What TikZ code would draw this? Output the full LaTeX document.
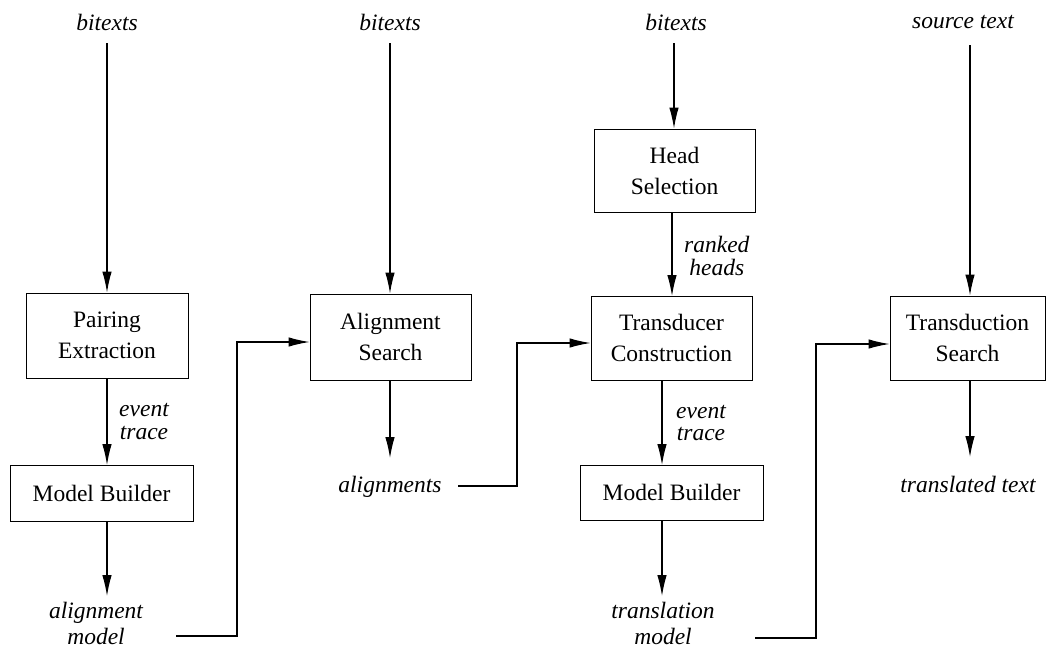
\documentclass[tikz,border=0pt]{standalone}
\usepackage{fontspec}
\setmainfont{Liberation Serif}
\usetikzlibrary{arrows.meta,calc}
\begin{document}
\begin{tikzpicture}[x=1pt,y=-1pt,
  every node/.style={font=\fontsize{23.5}{31}\selectfont},
  box/.style={draw,line width=1pt,inner sep=0pt,align=center},
  lbl/.style={inner sep=0pt,align=center,font=\fontsize{23.5}{23}\selectfont\itshape},
  lbltwo/.style={inner sep=0pt,align=center,font=\fontsize{23.5}{26}\selectfont\itshape},
  arr/.style={line width=1.1pt,-{Latex[length=21pt,width=9.5pt]}},
  ln/.style={line width=1.1pt}]
\useasboundingbox (0,0) rectangle (1047,653);
% top labels
\node[lbl] (t1) at (107,22) {bitexts};
\node[lbl] (t2) at (390,22) {bitexts};
\node[lbl] (t3) at (676,22) {bitexts};
\node[lbl] (t4) at (963,22) {source text};
% boxes
\node[box,minimum width=162,minimum height=85] (pe) at (107,335.5) {Pairing\\Extraction};
\node[box,minimum width=183,minimum height=56] (mb1) at (101.5,493) {Model Builder};
\node[box,minimum width=161,minimum height=86] (as) at (390.5,337) {Alignment\\Search};
\node[box,minimum width=161,minimum height=83] (hs) at (674.5,170.5) {Head\\Selection};
\node[box,minimum width=161,minimum height=84] (tc) at (671.5,338) {Transducer\\Construction};
\node[box,minimum width=183,minimum height=55] (mb2) at (671.5,492.5) {Model Builder};
\node[box,minimum width=155,minimum height=84] (ts) at (967.5,338) {Transduction\\Search};
% other labels
\node[lbl,anchor=west] (et1) at (119,422) {event\\trace};
\node[lbltwo] (am) at (96,623) {alignment\\model};
\node[lbl] (al) at (390,487) {alignments};
\node[lbl,anchor=west] (rh) at (684,256) {ranked\\heads};
\node[lbl,anchor=west] (et2) at (676,423) {event\\trace};
\node[lbltwo] (tm) at (663,623) {translation\\model};
\node[lbl] (tt) at (968,484) {translated text};
% coordinates
\coordinate (c1a) at (107,43);
\coordinate (c2a) at (390,43);
\coordinate (c3a) at (674,43);
\coordinate (c4a) at (970,45);
\coordinate (amE) at (176,636);
\coordinate (alE) at (458,486);
\coordinate (tmE) at (755,638);
% column 1
\draw[arr] (c1a) -- (c1a |- pe.north);
\draw[arr] (pe.south -| 107,0) -- (107,465);
\draw[arr] (107,521) -- (107,596);
% column 2
\draw[arr] (c2a) -- (c2a |- as.north);
\draw[arr] (as.south -| 390,0) -- (390,458);
% column 3
\draw[arr] (c3a) -- (c3a |- hs.north);
\draw[arr] (hs.south -| 672,0) -- (672,296);
\draw[arr] (tc.south -| 662,0) -- (662,465);
\draw[arr] (mb2.south -| 662,0) -- (662,596);
% column 4
\draw[arr] (c4a) -- (c4a |- ts.north);
\draw[arr] (ts.south -| 970,0) -- (970,457);
% feeds
\draw[arr] (amE) -- (237,636) -- (237,342) -- (as.west |- 0,342);
\draw[arr] (alE) -- (517,486) -- (517,343) -- (tc.west |- 0,343);
\draw[arr] (tmE) -- (816,638) -- (816,344) -- (ts.west |- 0,344);
\end{tikzpicture}
\end{document}
